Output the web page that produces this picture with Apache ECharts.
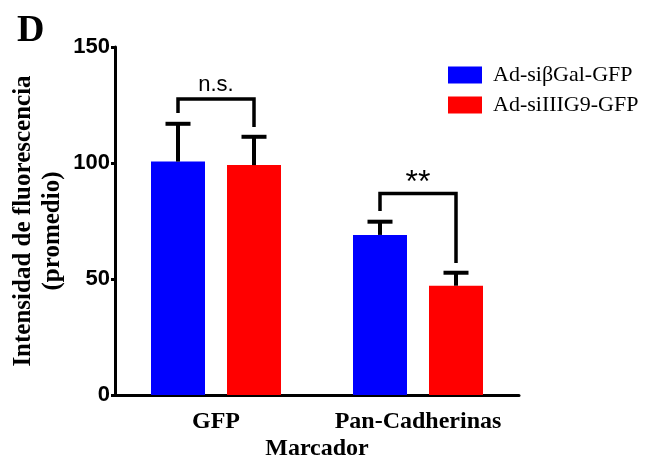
<!DOCTYPE html>
<html>
<head>
<meta charset="utf-8">
<script src="https://cdn.jsdelivr.net/npm/echarts@6/dist/echarts.min.js"></script>
<style>html,body{margin:0;padding:0;background:#fff;}#c{width:662px;height:458px;}</style>
</head>
<body>
<div id="c"></div>
<script>
const categories = ['GFP', 'Pan-Cadherinas'];
const seriesNames = ['Ad-siβGal-GFP', 'Ad-siIIIG9-GFP'];
const meanSiBGal = [100.6, 69.0];
const upperSiBGal = [116.9, 74.7];
const meanSiIIIG9 = [99.1, 47.1];
const upperSiIIIG9 = [111.3, 52.7];
const yTicks = [0, 50, 100, 150];
// brackets: [category index, bracket top, left leg end, right leg end]
const bracketCat = [0, 1];
const bracketTop = [127.6, 86.9];
const bracketLeftEnd = [121.6, 79.3];
const bracketRightEnd = [115.5, 56.9];
const bracketLabel = ['n.s.', '**'];

const BAR_W = 54, BAR_GAP = 22;
const SERIF = '"Liberation Serif", "Times New Roman", serif';
const SANS = '"Liberation Sans", Arial, sans-serif';

const chart = echarts.init(document.getElementById('c'), null, {renderer: 'canvas'});

function errRender(side) {
  return function (params, api) {
    const ci = api.value(0), mean = api.value(1), hi = api.value(2);
    const base = api.coord([ci, mean]);
    const top = api.coord([ci, hi]);
    const x = base[0] + side * (BAR_W + BAR_GAP) / 2;
    const st = {stroke: '#000', lineWidth: 4};
    return {type: 'group', children: [
      {type: 'line', shape: {x1: x, y1: base[1], x2: x, y2: top[1]}, style: st},
      {type: 'line', shape: {x1: x - 12.5, y1: top[1], x2: x + 12.5, y2: top[1]}, style: st}
    ]};
  };
}

function bracketRender(params, api) {
  const ci = api.value(0);
  const t = api.coord([ci, api.value(1)]);
  const l = api.coord([ci, api.value(2)]);
  const r = api.coord([ci, api.value(3)]);
  const off = (BAR_W + BAR_GAP) / 2;
  const xl = t[0] - off, xr = t[0] + off;
  const lab = bracketLabel[params.dataIndex];
  const isStar = lab.indexOf('*') >= 0;
  return {type: 'group', children: [
    {type: 'polyline', shape: {points: [[xl, l[1]], [xl, t[1]], [xr, t[1]], [xr, r[1]]]},
     style: {stroke: '#000', lineWidth: 3.5, fill: null}},
    {type: 'text', x: t[0], y: isStar ? t[1] + 6 : t[1] - 3,
     style: {text: lab, fill: '#000', font: (isStar ? '32px ' : '22px ') + SANS, align: 'center', verticalAlign: 'bottom'}}
  ]};
}

const option = {
  animation: false,
  backgroundColor: '#fff',
  graphic: [{type: 'text', left: 17, top: 12, style: {text: 'D', font: 'bold 38px ' + SERIF, fill: '#000'}}],
  legend: {
    orient: 'vertical', left: 448, top: 64, padding: 0, itemWidth: 34, itemHeight: 17, itemGap: 8,
    selectedMode: false, icon: 'rect',
    data: seriesNames,
    textStyle: {fontFamily: SERIF, fontSize: 22, color: '#000', padding: [0, 0, 0, 6]}
  },
  grid: {left: 115, top: 47, right: 143, bottom: 63, containLabel: false, outerBoundsMode: 'none'},
  xAxis: {
    type: 'category', data: categories,
    name: 'Marcador', nameLocation: 'middle', nameGap: 42, nameMoveOverlap: false,
    nameTextStyle: {fontFamily: SERIF, fontWeight: 'bold', fontSize: 24, color: '#000'},
    axisLine: {lineStyle: {color: '#000', width: 3}},
    axisTick: {alignWithLabel: true, length: 6, lineStyle: {color: '#000', width: 3}},
    axisLabel: {interval: 0, fontFamily: SERIF, fontWeight: 'bold', fontSize: 24, color: '#000', margin: 15}
  },
  yAxis: {
    type: 'value', min: yTicks[0], max: yTicks[yTicks.length - 1], interval: yTicks[1] - yTicks[0],
    name: 'Intensidad de fluorescencia\n{b|(promedio)}', nameLocation: 'middle', nameGap: 48, nameRotate: 90,
    nameMoveOverlap: false,
    nameTextStyle: {fontFamily: SERIF, fontWeight: 'bold', fontSize: 25, color: '#000', lineHeight: 29,
      rich: {b: {fontFamily: SERIF, fontWeight: 'bold', fontSize: 25, color: '#000', lineHeight: 29, padding: [0, 20, 0, 0]}}},
    splitLine: {show: false},
    axisLine: {show: true, lineStyle: {color: '#000', width: 3}},
    axisTick: {show: true, length: 4, lineStyle: {color: '#000', width: 3}},
    axisLabel: {fontFamily: SANS, fontWeight: 'bold', fontSize: 22, color: '#000', margin: 5}
  },
  series: [
    {name: seriesNames[0], type: 'bar', data: meanSiBGal, barWidth: BAR_W, barGap: (BAR_GAP / BAR_W * 100) + '%',
     itemStyle: {color: '#0000ff'}},
    {name: seriesNames[1], type: 'bar', data: meanSiIIIG9, barWidth: BAR_W,
     itemStyle: {color: '#ff0000'}},
    {type: 'custom', renderItem: errRender(-1), z: 5,
     data: categories.map((c, i) => [i, meanSiBGal[i], upperSiBGal[i]])},
    {type: 'custom', renderItem: errRender(1), z: 5,
     data: categories.map((c, i) => [i, meanSiIIIG9[i], upperSiIIIG9[i]])},
    {type: 'custom', renderItem: bracketRender, z: 5,
     data: bracketCat.map((c, i) => [c, bracketTop[i], bracketLeftEnd[i], bracketRightEnd[i]])}
  ]
};
chart.setOption(option);
</script>
</body>
</html>
